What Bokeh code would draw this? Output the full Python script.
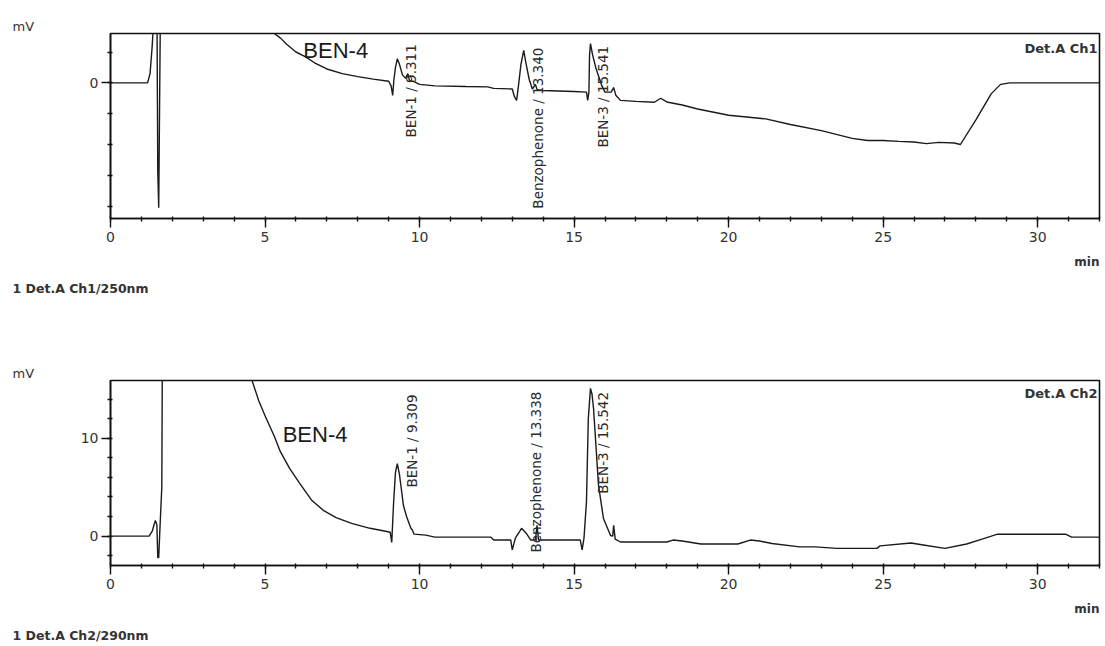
import math
from bokeh.plotting import figure
from bokeh.layouts import column
from bokeh.models import Label, SingleIntervalTicker, Title
from bokeh.embed import file_html
from bokeh.resources import INLINE

# ---------------- data ----------------
# Channel 1 (250 nm) time (min) / signal (mV)
ch1_time = [0.0, 1.2, 1.28, 1.35, 1.45, 1.5, 1.53, 1.56, 1.62, 5.2, 5.3, 5.5, 5.7, 6.0,
            6.3, 6.6, 7.0, 7.5, 8.0, 8.5, 9.0, 9.08, 9.13, 9.17, 9.22, 9.28, 9.35, 9.45,
            9.55, 9.62, 9.68, 9.8, 10.0, 10.5, 11.5, 12.2, 12.4, 13.0, 13.07, 13.14,
            13.2, 13.28, 13.37, 13.45, 13.55, 13.65, 13.75, 13.8, 14.0, 15.0, 15.4,
            15.44, 15.48, 15.5, 15.53, 15.6, 15.7, 15.8, 15.9, 16.0, 16.2, 16.28, 16.35,
            16.5, 17.0, 17.6, 17.8, 18.0, 18.5, 19.0, 20.0, 20.5, 21.2, 22.0, 23.0,
            24.0, 24.5, 25.0, 25.5, 26.0, 26.4, 26.8, 27.3, 27.5, 28.0, 28.5, 28.8,
            29.1, 32.0]
ch1_mv = [0.0, 0.0, 0.3, 1.2, 3.0, 3.0, -2.9, -4.05, 3.0, 3.0, 1.6, 1.45, 1.25, 1.0,
          0.85, 0.65, 0.45, 0.3, 0.2, 0.12, 0.05, -0.1, -0.41, 0.1, 0.5, 0.78, 0.6, 0.25,
          0.15, 0.3, 0.05, 0.05, -0.05, -0.1, -0.12, -0.13, -0.18, -0.2, -0.45, -0.57,
          -0.1, 0.6, 1.05, 0.6, 0.1, -0.2, -0.05, -0.22, -0.25, -0.28, -0.3,
          -0.57, -0.3, 0.9, 1.27, 0.9, 0.5, 0.2, -0.1, -0.3, -0.3, -0.15, -0.4,
          -0.57, -0.6, -0.63, -0.5, -0.62, -0.72, -0.85, -1.05, -1.1, -1.17, -1.35, -1.55,
          -1.8, -1.87, -1.87, -1.9, -1.92, -1.97, -1.93, -1.95, -2.0, -1.2, -0.35, -0.05,
          0.0, 0.0]

# Channel 2 (290 nm)
ch2_time = [0.0, 1.25, 1.35, 1.45, 1.5, 1.53, 1.56, 1.6, 1.66, 1.68, 4.5, 4.58, 4.8,
            5.0, 5.3, 5.5, 5.8, 6.1, 6.5, 6.9, 7.3, 7.8, 8.4, 8.9, 9.05, 9.1, 9.16,
            9.22, 9.28, 9.35, 9.48, 9.58, 9.65, 9.72, 9.77, 9.82, 10.2, 10.5, 12.3,
            12.4, 12.95, 13.0, 13.1, 13.3, 13.45, 13.6, 13.75, 13.8, 13.85, 15.2, 15.26,
            15.32, 15.4, 15.46, 15.53, 15.58, 15.63, 15.79, 15.95, 16.18, 16.25, 16.28,
            16.33, 16.5, 18.0, 18.2, 18.5, 19.1, 20.3, 20.7, 21.0, 21.4, 22.3, 22.8,
            23.5, 24.8, 24.9, 25.9, 26.3, 27.0, 27.7, 28.2, 28.7, 30.9, 31.1, 32.0]
ch2_mv = [0.0, 0.0, 0.5, 1.6, 1.2, -2.2, -2.2, 0.8, 5.0, 20.0, 20.0, 15.9, 13.8,
          12.3, 10.2, 8.6, 6.9, 5.5, 3.7, 2.6, 1.9, 1.3, 0.8, 0.5, 0.4, -0.65, 3.4,
          6.5, 7.4, 6.3, 3.1, 2.0, 1.4, 0.8, 0.6, 0.2, 0.1, -0.1, -0.1,
          -0.4, -0.4, -1.4, -0.2, 0.8, 0.3, -0.4, -0.4, 1.1, -0.4, -0.4, -1.4,
          -0.2, 3.5, 12.0, 15.1, 14.5, 13.0, 5.2, 1.8, 0.06, 0.0, 1.1,
          -0.3, -0.6, -0.6, -0.4, -0.5, -0.8, -0.8, -0.4, -0.5, -0.75, -1.1, -1.1,
          -1.25, -1.25, -1.0, -0.7, -0.9, -1.25, -0.8, -0.3, 0.2, 0.2, -0.1, -0.1]

# peak annotations
peak_names = ["BEN-1", "Benzophenone", "BEN-3"]
ch1_rt = ["9.311", "13.340", "15.541"]
ch2_rt = ["9.309", "13.338", "15.542"]
x_ticks_interval = 5

FONT = "DejaVu Sans"
LINE = "#1a1a1a"
H = 323


def make_panel(times, mv, yr, y_interval, top_border, bottom_border, rts,
               label_pos, ben4_pos, det_pos, det_text, info_text):
    p = figure(width=1105, height=H, x_range=(0, 32), y_range=yr,
               output_backend="svg", toolbar_location=None,
               min_border_left=110, min_border_right=6,
               min_border_top=top_border, min_border_bottom=bottom_border)
    p.grid.visible = False
    p.background_fill_color = "white"
    p.border_fill_color = "white"
    p.outline_line_color = "#111111"
    p.outline_line_width = 1.6
    p.line(times, mv, line_color=LINE, line_width=1.4)

    p.xaxis.ticker = SingleIntervalTicker(interval=x_ticks_interval, num_minor_ticks=5)
    p.yaxis.ticker = SingleIntervalTicker(interval=y_interval, num_minor_ticks=5)
    for ax in (p.xaxis[0], p.yaxis[0]):
        ax.axis_line_color = "#111111"
        ax.axis_line_width = 1.6
        ax.major_tick_line_color = "#111111"
        ax.minor_tick_line_color = "#111111"
        ax.major_tick_line_width = 1.4
        ax.minor_tick_line_width = 1.4
        ax.major_tick_out = 9
        ax.major_tick_in = 0
        ax.minor_tick_out = 3
        ax.minor_tick_in = 2
        ax.major_label_text_font = FONT
        ax.major_label_text_font_size = "14px"
        ax.major_label_text_color = "#333333"
    p.xaxis.major_label_standoff = 4
    p.yaxis.major_label_standoff = 3

    for i, name in enumerate(peak_names):
        lx, ly = label_pos[i]
        p.add_layout(Label(x=lx, y=ly, text=f"{name} / {rts[i]}", angle=math.pi / 2,
                           text_align="left", text_baseline="middle",
                           text_font=FONT, text_font_size="13.5px", text_color="#2a2a2a"))
    p.add_layout(Label(x=ben4_pos[0], y=ben4_pos[1], text="BEN-4", text_align="left",
                       text_baseline="middle", text_font="Liberation Sans",
                       text_font_size="22px", text_color="#1a1a1a"))
    p.add_layout(Label(x=det_pos[0], y=det_pos[1], text=det_text, text_align="right",
                       text_baseline="middle", text_font=FONT, text_font_style="bold",
                       text_font_size="13px", text_color="#333333"))
    # texts outside the frame, as titles in the side panels
    p.add_layout(Title(text="mV", align="left", offset=-98, standoff=0,
                       text_font=FONT, text_font_style="normal",
                       text_font_size="13px", text_color="#333333"), "above")
    p.add_layout(Title(text="min", align="right", offset=0, standoff=16,
                       text_font=FONT, text_font_style="bold",
                       text_font_size="12px", text_color="#333333"), "below")
    p.add_layout(Title(text=info_text, align="left", offset=-98, standoff=5,
                       text_font=FONT, text_font_style="bold",
                       text_font_size="12.5px", text_color="#333333"), "below")
    return p


p1 = make_panel(ch1_time, ch1_mv, (-4.4, 1.6), 5, 33, 105, ch1_rt,
                [(9.71, -1.77), (13.82, -4.08), (15.92, -2.1)],
                (6.24, 1.05), (31.94, 1.11), "Det.A Ch1", "1 Det.A Ch1/250nm")
p2 = make_panel(ch2_time, ch2_mv, (-3.0, 15.9), 10, 57, 81, ch2_rt,
                [(9.77, 4.96), (13.78, -1.68), (15.92, 4.33)],
                (5.57, 10.38), (31.94, 14.57), "Det.A Ch2", "1 Det.A Ch2/290nm")

layout = column(p1, p2, spacing=0)
open("out.html", "w").write(file_html(layout, INLINE))
